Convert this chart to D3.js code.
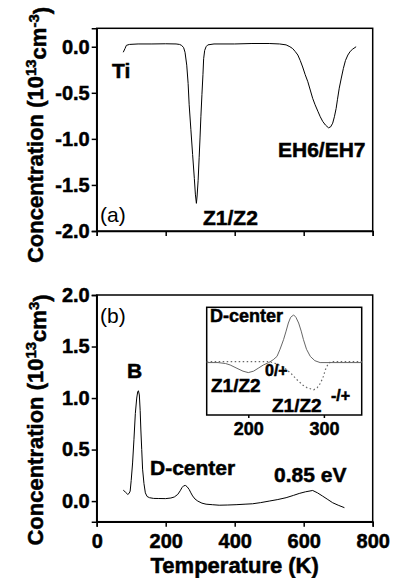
<!DOCTYPE html>
<html>
<head>
<meta charset="utf-8">
<script src="https://cdn.jsdelivr.net/npm/d3@7"></script>
<style>
  body { margin: 0; background: #fff; }
  svg { display: block; font-family: 'Liberation Sans', Arial, sans-serif; }
  .axis text { font-weight: bold; font-size: 20px; fill: #000; stroke: #000; stroke-width: 0.5; }
  .axis line, .axis path { stroke: #000; stroke-width: 1.5; }
  .lbl { font-weight: bold; fill: #000; stroke: #000; stroke-width: 0.5; }
  .lbl.thin { font-weight: normal; stroke-width: 0; }
</style>
</head>
<body>
<script>
// Panel (a): temperature (K) and concentration (10^13 cm^-3)
var topT = [77, 82, 86, 95, 120, 160, 200, 230, 240, 246, 252, 256, 261, 265, 268, 273, 278, 283, 286, 289,
    291, 294, 297, 299.5, 302, 305, 308, 310, 313, 317, 322, 340, 400, 450, 500, 530, 549, 560, 568, 575,
    583, 590, 597, 604, 612, 619, 626, 633, 641, 648, 655, 663, 672, 678, 684, 689, 694, 698, 703, 709,
    715, 721, 728, 735, 742, 752];
var topC = [-0.06, -0.02, 0.015, 0.025, 0.03, 0.03, 0.032, 0.03, 0.025, 0.015, -0.01, -0.06, -0.2, -0.4, -0.63, -0.9, -1.17, -1.43, -1.6, -1.70,
    -1.62, -1.45, -1.2, -0.99, -0.76, -0.52, -0.3, -0.13, -0.04, 0.0, 0.02, 0.03, 0.03, 0.035, 0.035, 0.03, 0.02, 0.0, -0.02, -0.05,
    -0.09, -0.15, -0.22, -0.3, -0.38, -0.47, -0.56, -0.63, -0.70, -0.76, -0.81, -0.85, -0.88, -0.87, -0.83, -0.76, -0.67, -0.57, -0.45, -0.34,
    -0.235, -0.15, -0.09, -0.05, -0.026, 0.0];

// Panel (b)
var botT = [77, 84, 90, 94, 97, 100, 104, 108, 112, 116, 119, 121, 123.6, 126, 128, 130.5, 133, 137, 141, 146,
    153, 165, 180, 200, 215, 225, 235, 242, 247, 252, 257, 262, 268, 273, 278, 285, 293, 305, 317, 335,
    355, 380, 404, 430, 452, 475, 500, 525, 549, 570, 587, 605, 626, 640, 655, 670, 684, 700, 718];
var botC = [0.106, 0.085, 0.065, 0.075, 0.097, 0.2, 0.37, 0.6, 0.85, 1.0, 1.064, 1.07, 1.03, 0.88, 0.69, 0.5, 0.31, 0.17, 0.08, 0.045,
    0.033, 0.026, 0.025, 0.024, 0.03, 0.04, 0.065, 0.1, 0.13, 0.148, 0.152, 0.14, 0.113, 0.08, 0.05, 0.02, 0.0, -0.02, -0.03, -0.035,
    -0.04, -0.038, -0.035, -0.03, -0.026, -0.015, 0.0, 0.015, 0.033, 0.055, 0.074, 0.09, 0.103, 0.08, 0.048, 0.015, -0.016, -0.04, -0.064];

// Inset (arbitrary units)
var dcT = [145, 160, 170, 176, 185, 193, 200, 207, 214, 220, 227, 233, 238, 242, 246.6, 250, 253, 256, 260, 263,
    266.6, 270, 273, 277, 282, 288, 295, 350];
var dcV = [0, 0, -0.02, -0.05, -0.12, -0.18, -0.21, -0.18, -0.11, -0.05, 0, 0.06, 0.13, 0.28, 0.48, 0.66, 0.83, 0.95, 1.0, 0.95,
    0.83, 0.66, 0.48, 0.28, 0.13, 0.04, 0, 0];
var zT = [145, 228, 238, 247, 256, 264.5, 272, 278, 286.6, 291, 295.6, 299, 302, 305, 309, 350];
var zV = [0.02, 0.02, -0.03, -0.1, -0.22, -0.36, -0.47, -0.53, -0.57, -0.53, -0.43, -0.3, -0.15, -0.05, 0.02, 0.02];

var xTicks = [0, 200, 400, 600, 800];
var topTicks = [0.0, -0.5, -1.0, -1.5, -2.0];
var botTicks = [0.0, 0.5, 1.0, 1.5, 2.0];
var insetTicks = [200, 300];

var svg = d3.select('body').append('svg').attr('width', 393).attr('height', 578);

var x = d3.scaleLinear().domain([0, 800]).range([96.7, 372.7]);
var yTop = d3.scaleLinear().domain([-2.0, 0.2]).range([231, 28.3]);
var yBot = d3.scaleLinear().domain([-0.2, 2.0]).range([521.7, 295]);

// Plain hyphen for negatives, like the original figure.
var fmt = function(d) { return d.toFixed(1); };

/**
 * Draws a framed panel with its left axis and bottom axis.
 */
var drawPanel = function(y, ticks, showXLabels) {
    var r = y.range();
    svg.append('rect')
        .attr('x', x.range()[0]).attr('y', r[1])
        .attr('width', x.range()[1] - x.range()[0]).attr('height', r[0] - r[1])
        .style('fill', 'none').style('stroke', '#000').style('stroke-width', 1.5);

    svg.append('g').attr('class', 'axis')
        .attr('transform', 'translate(' + x.range()[0] + ',0)')
        .call(d3.axisLeft(y).tickValues(ticks).tickFormat(fmt).tickSizeOuter(0).tickSize(5).tickPadding(2));

    svg.append('g').attr('class', 'axis')
        .attr('transform', 'translate(0,' + r[0] + ')')
        .call(d3.axisBottom(x).tickValues(xTicks).tickSizeOuter(0).tickSize(5).tickPadding(7)
            .tickFormat(showXLabels ? d3.format('d') : function() { return ''; }));
};

drawPanel(yTop, topTicks, false);
drawPanel(yBot, botTicks, true);

var line = function(xs, ys, sx, sy) {
    return d3.line().x(function(d) { return sx(xs[d]); }).y(function(d) { return sy(ys[d]); })(d3.range(xs.length));
};

svg.append('path').attr('d', line(topT, topC, x, yTop))
    .style('fill', 'none').style('stroke', '#000').style('stroke-width', 1);
svg.append('path').attr('d', line(botT, botC, x, yBot))
    .style('fill', 'none').style('stroke', '#000').style('stroke-width', 1);

// Inset
var xi = d3.scaleLinear().domain([145, 350]).range([206.7, 361.7]);
var yi = d3.scaleLinear().domain([-1.1, 1.16]).range([415, 307.3]);

svg.append('rect').attr('x', 206.7).attr('y', 307.3).attr('width', 155).attr('height', 107.7)
    .style('fill', '#fff').style('stroke', '#000').style('stroke-width', 1.5);
svg.append('g').attr('class', 'axis inset')
    .attr('transform', 'translate(0,415)')
    .call(d3.axisBottom(xi).tickValues(insetTicks).tickSizeOuter(0).tickSize(3).tickPadding(4).tickFormat(d3.format('d')))
    .call(function(g) { g.select('.domain').remove(); g.selectAll('text').style('font-size', '18px'); });

svg.append('path').attr('d', line(dcT, dcV, xi, yi))
    .style('fill', 'none').style('stroke', '#666').style('stroke-width', 1);
svg.append('path').attr('d', line(zT, zV, xi, yi))
    .style('fill', 'none').style('stroke', '#666').style('stroke-width', 1.2).style('stroke-dasharray', '1.5,2.5');

// Labels
var label = function(tx, ty, str, size, bold) {
    return svg.append('text').attr('class', bold === false ? 'lbl thin' : 'lbl').attr('x', tx).attr('y', ty)
        .style('font-size', size + 'px').text(str);
};

label(112, 78, 'Ti', 21);
label(203, 225, 'Z1/Z2', 21);
label(278, 157, 'EH6/EH7', 21);
label(100, 222, '(a)', 21, false);
label(100, 323, '(b)', 21, false);
label(127, 378, 'B', 21);
label(150, 475, 'D-center', 21);
label(274, 482, '0.85 eV', 21);
label(210, 322, 'D-center', 18);
label(211, 392, 'Z1/Z2', 19);
label(265, 376, '0/+', 16);
label(272, 412, 'Z1/Z2', 19);
label(331, 401, '-/+', 16);

svg.append('text').attr('class', 'lbl')
    .attr('x', 234.7).attr('y', 573).style('text-anchor', 'middle').style('font-size', '22px')
    .text('Temperature (K)');

var yLabel = function(cy, exp) {
    var t = svg.append('text').attr('class', 'lbl')
        .attr('transform', 'translate(43,' + cy + ') rotate(-90)')
        .style('text-anchor', 'middle').style('font-size', '22px');
    t.append('tspan').text('Concentration (10');
    t.append('tspan').attr('dy', '-0.45em').style('font-size', '15px').text('13');
    t.append('tspan').attr('dy', '0.45em').text('cm');
    t.append('tspan').attr('dy', '-0.45em').style('font-size', '15px').text(exp);
    t.append('tspan').attr('dy', '0.45em').text(')');
};
yLabel(135, '-3');
yLabel(420, '3');
</script>
</body>
</html>
